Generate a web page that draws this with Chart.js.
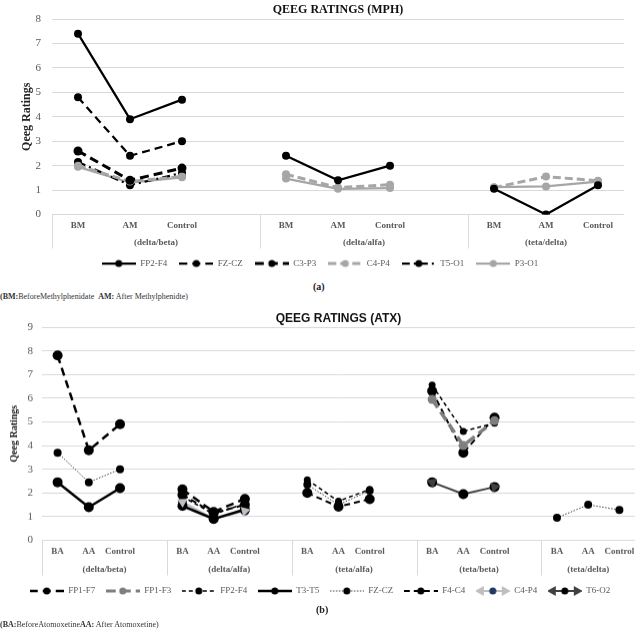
<!DOCTYPE html>
<html>
<head>
<meta charset="utf-8">
<script src="https://cdn.jsdelivr.net/npm/chart.js@4.4.1/dist/chart.umd.min.js"></script>
<style>
  body { margin: 0; background: #fff; width: 640px; height: 631px; position: relative; overflow: hidden; font-family: "Liberation Serif", serif; }
  .box { position: absolute; left: 0; width: 640px; }
  .cap { position: absolute; font-weight: bold; font-size: 10px; color: #222; }
  .note { position: absolute; left: 0; font-size: 8px; color: #333; white-space: nowrap; }
</style>
</head>
<body>
<div class="box" style="top:0;height:278px"><canvas id="chartA"></canvas></div>
<div class="cap" style="left:313px;top:281px">(a)</div>
<div class="note" style="top:292px"><b>(BM:</b>BeforeMethylphenidate &nbsp;<b>AM:</b> After Methylphenidte)</div>
<div class="box" style="top:305px;height:299.5px"><canvas id="chartB"></canvas></div>
<div class="cap" style="left:316px;top:604px">(b)</div>
<div class="note" style="top:620px"><b>(BA:</b>BeforeAtomoxetine<b>AA:</b> After Atomoxetine)</div>

<script>
// ---- data for chart (a), MPH ----
const labelsA = ['BM', 'AM', 'Control', '', 'BM', 'AM', 'Control', '', 'BM', 'AM', 'Control'];
const groupsA = ['(delta/beta)', '(delta/alfa)', '(teta/delta)'];
const fp2f4A = [7.4, 3.9, 4.7, null, 2.4, 1.4, 2.0, null, 1.05, 0, 1.2];
const fzczA  = [4.8, 2.4, 3.0, null, null, null, null, null, null, null, null];
const c3p3A  = [2.6, 1.4, 1.9, null, null, null, null, null, null, null, null];
const c4p4A  = [2.0, 1.35, 1.55, null, 1.65, 1.1, 1.22, null, 1.1, 1.55, 1.38];
const t5o1A  = [2.15, 1.2, 1.7, null, null, null, null, null, null, null, null];
const p3o1A  = [1.95, 1.3, 1.52, null, 1.47, 1.05, 1.08, null, 1.12, 1.15, 1.35];
const yTicksA = [0, 1, 2, 3, 4, 5, 6, 7, 8];

// ---- data for chart (b), ATX ----
const labelsB = ['BA', 'AA', 'Control', '', 'BA', 'AA', 'Control', '', 'BA', 'AA', 'Control', '',
                 'BA', 'AA', 'Control', '', 'BA', 'AA', 'Control'];
const groupsB = ['(delta/beta)', '(delta/alfa)', '(teta/alfa)', '(teta/beta)', '(teta/delta)'];
const fp1f7B = [7.8, 3.8, 4.9, null, 2.15, 1.2, 1.75, null, null, null, null, null, null, null, null, null, null, null, null];
const fp1f3B = [null, null, null, null, null, null, null, null, null, null, null, null, 5.95, 4.0, 5.05, null, null, null, null];
const fp2f4B = [null, null, null, null, 1.85, 1.1, 1.55, null, 2.55, 1.65, 2.15, null, 6.55, 4.6, 4.95, null, null, null, null];
const t3t5B  = [2.45, 1.4, 2.2, null, 1.45, 0.9, 1.3, null, null, null, null, null, null, null, null, null, null, null, null];
const fzczB  = [3.7, 2.45, 3.0, null, null, null, null, null, 2.35, 1.5, 2.1, null, null, null, null, null, 0.95, 1.5, 1.28];
const f4c4B  = [null, null, null, null, 1.92, 1.15, 1.5, null, 2.0, 1.42, 1.74, null, 6.3, 3.7, 5.18, null, null, null, null];
const c4p4B  = [null, null, null, null, 1.62, 0.9, 1.24, null, null, null, null, null, null, null, null, null, null, null, null];
const t6o2B  = [null, null, null, null, null, null, null, null, null, null, null, null, 2.45, 1.95, 2.25, null, null, null, null];
const yTicksB = [0, 1, 2, 3, 4, 5, 6, 7, 8, 9];

const SERIF = '"Liberation Serif", serif';

// build a line dataset
function series(label, data, color, width, dash, radius, pointColor, arrows) {
    return {
        label: label,
        data: data,
        borderColor: color,
        borderWidth: width,
        borderDash: dash,
        pointRadius: radius,
        pointHoverRadius: radius,
        pointBackgroundColor: pointColor || color,
        pointBorderColor: pointColor || color,
        pointBorderWidth: 0,
        tension: 0,
        fill: false,
        spanGaps: false,
        arrows: !!arrows
    };
}

// small arrow head: tip points from q towards p
function arrowHead(ctx, p, q, color) {
    const dx = p.x - q.x, dy = p.y - q.y;
    const len = Math.hypot(dx, dy) || 1;
    const ux = dx / len, uy = dy / len;
    ctx.fillStyle = color;
    ctx.beginPath();
    ctx.moveTo(p.x + ux * 6, p.y + uy * 6);
    ctx.lineTo(p.x - ux * 3 - uy * 5, p.y - uy * 3 + ux * 5);
    ctx.lineTo(p.x - ux * 3 + uy * 5, p.y - uy * 3 - ux * 5);
    ctx.closePath();
    ctx.fill();
}

// legend sample: line + marker, like the spreadsheet legend
function legendIcon(ds) {
    const c = document.createElement('canvas');
    c.width = 34; c.height = 12;
    const g = c.getContext('2d');
    g.strokeStyle = ds.borderColor;
    g.lineWidth = Math.min(ds.borderWidth, 3);
    g.setLineDash(ds.borderDash || []);
    g.beginPath();
    g.moveTo(ds.arrows ? 6 : 0, 6);
    g.lineTo(ds.arrows ? 28 : 34, 6);
    g.stroke();
    g.setLineDash([]);
    if (ds.arrows) {
        arrowHead(g, {x: 5, y: 6}, {x: 17, y: 6}, ds.borderColor);
        arrowHead(g, {x: 29, y: 6}, {x: 17, y: 6}, ds.borderColor);
    }
    g.fillStyle = ds.pointBackgroundColor;
    g.beginPath();
    g.arc(17, 6, Math.min(ds.pointRadius, 3.5), 0, Math.PI * 2);
    g.fill();
    return c;
}

// arrows at the ends of each run of points
const arrowPlugin = {
    id: 'arrowPlugin',
    afterDatasetsDraw(chart) {
        const ctx = chart.ctx;
        chart.data.datasets.forEach((ds, i) => {
            if (!ds.arrows) return;
            const pts = chart.getDatasetMeta(i).data;
            const d = ds.data;
            ctx.save();
            for (let k = 0; k < d.length; k++) {
                if (d[k] == null) continue;
                const prev = k > 0 ? d[k - 1] : null;
                const next = k < d.length - 1 ? d[k + 1] : null;
                if (prev == null && next != null) arrowHead(ctx, pts[k], pts[k + 1], ds.borderColor);
                if (next == null && prev != null) arrowHead(ctx, pts[k], pts[k - 1], ds.borderColor);
            }
            ctx.restore();
        });
    }
};

// second level of the category axis: group names and separators
const groupAxis = {
    id: 'groupAxis',
    afterDraw(chart, args, opts) {
        const x = chart.scales.x;
        const ctx = chart.ctx;
        const n = chart.data.labels.length;
        const step = x.getPixelForValue(1) - x.getPixelForValue(0);
        ctx.save();
        ctx.strokeStyle = '#d9d9d9';
        ctx.lineWidth = 1;
        ctx.font = 'bold 9px ' + SERIF;
        ctx.fillStyle = '#595959';
        ctx.textAlign = 'center';
        ctx.textBaseline = 'middle';
        opts.names.forEach((name, g) => {
            const first = g * 4;
            const last = Math.min(first + 3, n - 1);
            const left = x.getPixelForValue(first) - step / 2;
            const right = x.getPixelForValue(last) + step / 2;
            const lx = Math.round(left) + 0.5;
            ctx.beginPath();
            ctx.moveTo(lx, x.top);
            ctx.lineTo(lx, x.top + opts.lineLen);
            ctx.stroke();
            ctx.fillText(name, (left + right) / 2, x.top + opts.labelOffset);
        });
        ctx.restore();
    }
};

function makeChart(id, labels, groups, datasets, yTicks, o) {
    return new Chart(document.getElementById(id), {
        type: 'line',
        data: { labels: labels, datasets: datasets },
        plugins: [groupAxis, arrowPlugin],
        options: {
            responsive: true,
            maintainAspectRatio: false,
            animation: false,
            layout: { padding: { left: o.padLeft, right: o.padRight, top: 0, bottom: 0 } },
            plugins: {
                title: {
                    display: true,
                    text: o.title,
                    fullSize: false,
                    color: '#111',
                    font: { family: o.titleFont, size: o.titleSize, weight: 'bold' },
                    padding: { top: o.titleTop, bottom: o.titleBottom }
                },
                legend: {
                    position: 'bottom',
                    labels: {
                        usePointStyle: true,
                        pointStyleWidth: 34,
                        padding: o.legendPad,
                        color: '#595959',
                        font: { family: SERIF, size: 9 },
                        generateLabels(chart) {
                            const items = Chart.defaults.plugins.legend.labels.generateLabels(chart);
                            items.forEach(it => { it.pointStyle = legendIcon(chart.data.datasets[it.datasetIndex]); });
                            return items;
                        }
                    }
                },
                tooltip: { enabled: false },
                groupAxis: { names: groups, lineLen: o.lineLen, labelOffset: o.groupOffset }
            },
            scales: {
                x: {
                    offset: true,
                    grid: { display: false, drawTicks: false },
                    border: { display: false },
                    ticks: {
                        autoSkip: false,
                        maxRotation: 0,
                        minRotation: 0,
                        padding: 5.5,
                        color: '#595959',
                        font: { family: SERIF, size: 9, weight: 'bold' }
                    },
                    afterFit(s) { s.height = o.xHeight; }
                },
                y: {
                    min: 0,
                    max: yTicks[yTicks.length - 1],
                    afterBuildTicks(s) { s.ticks = yTicks.map(v => ({ value: v })); },
                    grid: { color: '#d9d9d9', drawTicks: false },
                    border: { display: false },
                    ticks: {
                        padding: o.yPad,
                        color: '#595959',
                        font: { family: SERIF, size: 11 }
                    },
                    title: {
                        display: true,
                        text: 'Qeeg Ratings',
                        color: '#222',
                        font: { family: SERIF, size: o.yTitleSize, weight: 'bold' }
                    },
                    afterFit(s) { s.width = o.yWidth; }
                }
            }
        }
    });
}

// chart (a)
makeChart('chartA', labelsA, groupsA, [
    series('FP2-F4', fp2f4A, '#000000', 2.25, [], 4),
    series('FZ-CZ', fzczA, '#000000', 2.25, [8, 5], 4),
    series('C3-P3', c3p3A, '#000000', 3, [9, 5], 4.5),
    series('C4-P4', c4p4A, '#a6a6a6', 3, [8, 4], 4),
    series('T5-O1', t5o1A, '#000000', 2.25, [8, 4, 2, 4], 4),
    series('P3-O1', p3o1A, '#a6a6a6', 2.25, [], 4)
], yTicksA, {
    title: 'QEEG RATINGS (MPH)', titleFont: SERIF, titleSize: 12, titleTop: 3, titleBottom: 1.6,
    padLeft: 16, padRight: 16, yWidth: 36, yPad: 11, yTitleSize: 12,
    xHeight: 32.5, lineLen: 34, groupOffset: 28, legendPad: 12
});

// chart (b)
makeChart('chartB', labelsB, groupsB, [
    series('FP1-F7', fp1f7B, '#000000', 2.5, [8, 5], 5),
    series('FP1-F3', fp1f3B, '#7f7f7f', 3.5, [10, 5], 4.5),
    series('FP2-F4', fp2f4B, '#000000', 1.5, [4, 3], 3.5),
    series('T3-T5', t3t5B, '#000000', 2.5, [], 5),
    series('FZ-CZ', fzczB, '#000000', 0.75, [1.5, 1.5], 4),
    series('F4-C4', f4c4B, '#000000', 2, [6, 4], 5),
    series('C4-P4', c4p4B, '#bfbfbf', 2, [], 4.5, '#1f3864', true),
    series('T6-O2', t6o2B, '#404040', 2, [], 5, '#000000', true)
], yTicksB, {
    title: 'QEEG RATINGS (ATX)', titleFont: '"Liberation Sans", sans-serif', titleSize: 12, titleTop: 6, titleBottom: 1.6,
    padLeft: 4, padRight: 4, yWidth: 38, yPad: 9, yTitleSize: 10,
    xHeight: 35.5, lineLen: 35, groupOffset: 29, legendPad: 10.5
});
</script>
</body>
</html>
